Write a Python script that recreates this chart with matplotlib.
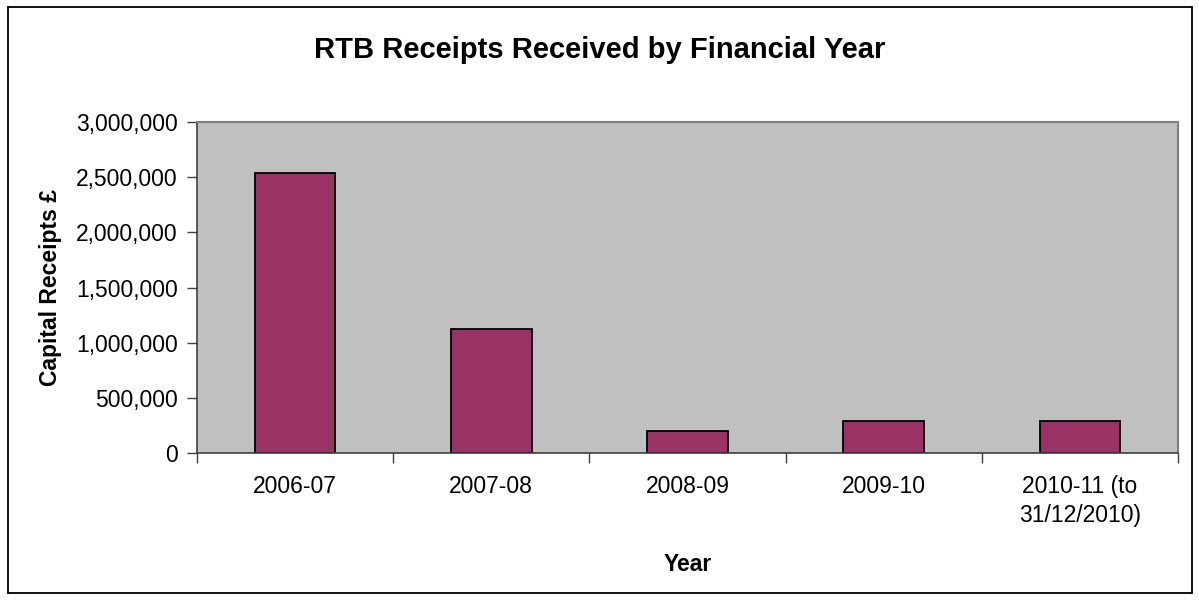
import matplotlib.pyplot as plt
from matplotlib.patches import Rectangle
from matplotlib.ticker import FuncFormatter, FixedLocator

plt.rcParams['font.family'] = ['Liberation Sans', 'DejaVu Sans']

years = ['2006-07', '2007-08', '2008-09', '2009-10', '2010-11 (to\n31/12/2010)']
receipts = [2535000, 1121000, 195000, 292000, 292000]

fig = plt.figure(figsize=(11.99, 6.0), dpi=100)
# outer chart border
fig.patches.append(Rectangle((8 / 1199, 7 / 600), 1184 / 1199, 586 / 600,
                             transform=fig.transFigure, fill=False,
                             edgecolor='black', linewidth=1.3))

ax = fig.add_axes([197 / 1199, 1 - 453 / 600, 981 / 1199, 331 / 600])
ax.set_facecolor('#c0c0c0')

x = range(len(years))
ax.bar(x, receipts, width=0.41, color='#993366', edgecolor='black', linewidth=1.3)

ax.set_xlim(-0.5, len(years) - 0.5)
ax.set_ylim(0, 3000000)
ax.set_yticks(range(0, 3000001, 500000))
ax.yaxis.set_major_formatter(FuncFormatter(lambda v, p: f'{int(v):,}'))

ax.set_xticks(list(x))
ax.set_xticklabels(years, fontsize=16.5, linespacing=1.3)
ax.xaxis.set_minor_locator(FixedLocator([i + 0.5 for i in range(-1, len(years))]))
ax.tick_params(axis='x', which='major', length=0, pad=16)
ax.tick_params(axis='x', which='minor', length=7, width=1, color='#404040')
ax.tick_params(axis='y', labelsize=16.5, length=7, width=1, color='#404040', pad=7)

for side in ['top', 'right']:
    ax.spines[side].set_color('#808080')
    ax.spines[side].set_linewidth(1.5)
for side in ['left', 'bottom']:
    ax.spines[side].set_color('#404040')
    ax.spines[side].set_linewidth(1.2)

ax.set_xlabel('Year', fontsize=16.5, fontweight='bold', labelpad=19)
ax.set_ylabel('Capital Receipts £', fontsize=16.5, fontweight='bold', labelpad=10)
fig.text(0.5, 1 - 50 / 600, 'RTB Receipts Received by Financial Year',
         ha='center', va='center', fontsize=21, fontweight='bold')

plt.savefig('out.png', dpi=100)
plt.close()
